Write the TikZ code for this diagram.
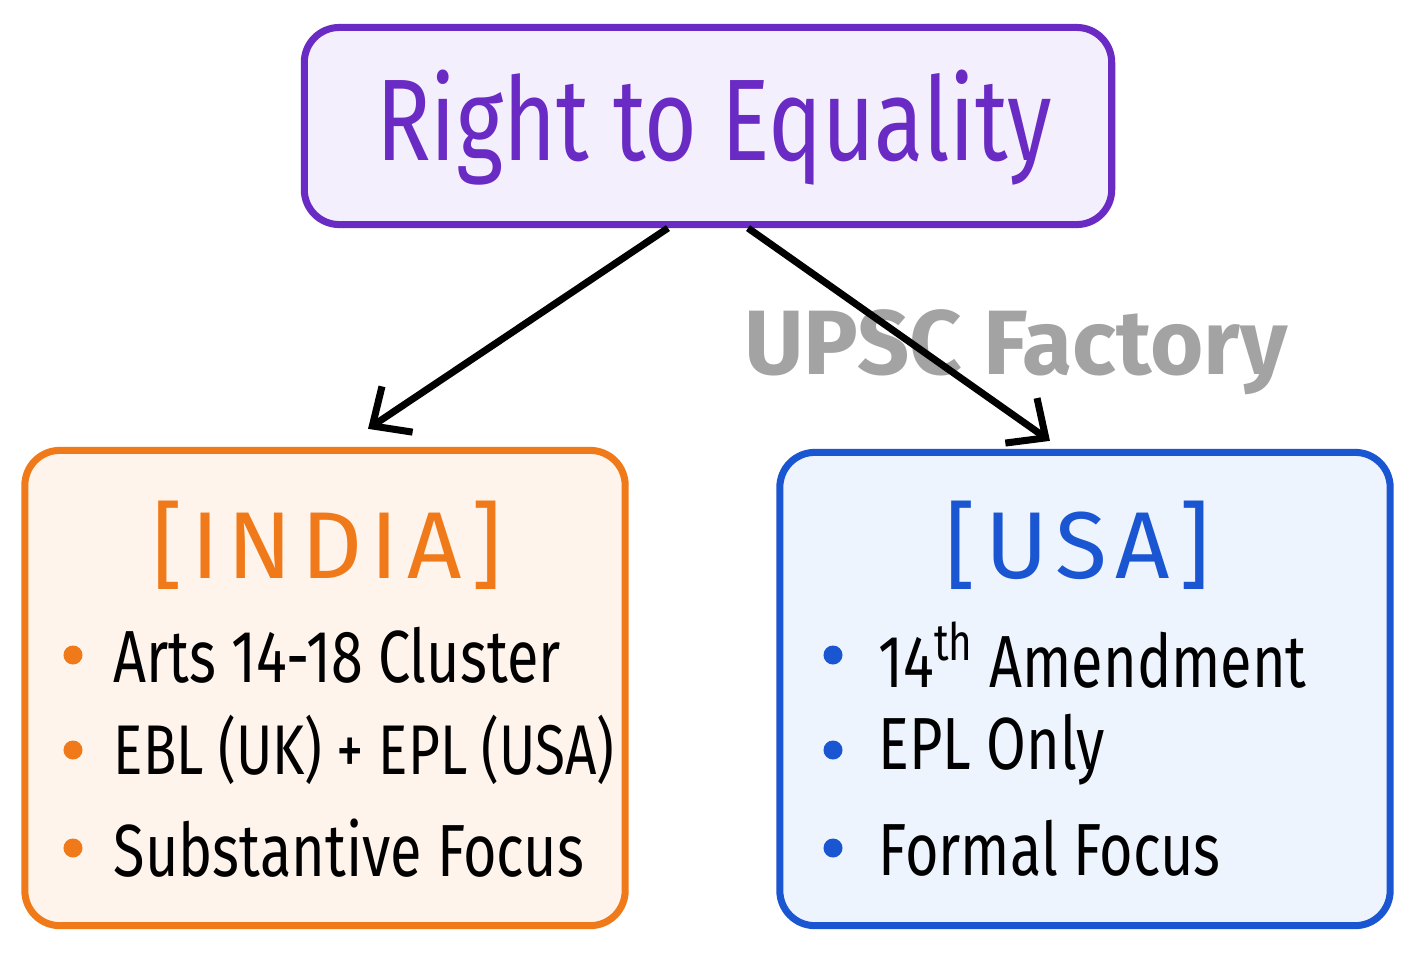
\documentclass[tikz,border=0pt]{standalone}
\usepackage{fontspec}
\setmainfont{Fira Sans}
\newfontfamily\hand[FakeStretch=0.78]{Fira Sans}
\newfontfamily\wide[LetterSpace=9]{Fira Sans}
\usetikzlibrary{arrows.meta,positioning}
\definecolor{titleline}{HTML}{6A2BC4}
\definecolor{titlefill}{HTML}{F4EFFC}
\definecolor{indialine}{HTML}{F07A1A}
\definecolor{indiafill}{HTML}{FFF4EB}
\definecolor{usaline}{HTML}{1A55D2}
\definecolor{usafill}{HTML}{EEF4FD}
\definecolor{mark}{HTML}{A3A3A3}

\begin{document}
\begin{tikzpicture}[x=0.01cm, y=-0.01cm,
    box/.style={draw, line width=2pt, rounded corners=0.35cm, inner sep=0pt},
    dot/.style={circle, inner sep=0pt, minimum size=0.19cm},
    item/.style={anchor=west, inner sep=0pt, font=\hand\fontsize{21}{24}\selectfont},
    head/.style={font=\wide\fontsize{27}{32}\selectfont},
    arrow/.style={-{Straight Barb[length=0.3cm, width=0.55cm]}, line width=2pt}
]
    \useasboundingbox (0,0) rectangle (1417,953);
    % boxes
    \node[box, draw=titleline, fill=titlefill, minimum width=8.07cm, minimum height=1.97cm] (title) at (708,126) {};
    \node[box, draw=indialine, fill=indiafill, minimum width=6cm, minimum height=4.75cm] (india) at (325,688) {};
    \node[box, draw=usaline, fill=usafill, minimum width=6.1cm, minimum height=4.73cm] (usa) at (1085,689) {};
    \node[text=titleline, font=\hand\fontsize{33}{38}\selectfont] (titletext) at (714,128) {Right to Equality};
    % watermark
    \node[text=mark, font=\bfseries\fontsize{26}{30}\selectfont] (mark) at (1016,352) {UPSC Factory};
    % arrows
    \draw[arrow] ([xshift=-0.4cm]title.south) -- ([xshift=0.43cm, yshift=0.18cm]india.north);
    \draw[arrow] ([xshift=0.4cm]title.south) -- ([xshift=-0.35cm, yshift=0.08cm]usa.north);
    % India
    \node[head, text=indialine] (indiahead) at (327,545) {[INDIA]};
    \node[dot, fill=indialine] (i1) at (73,655) {};
    \node[dot, fill=indialine] (i2) at (73,750) {};
    \node[dot, fill=indialine] (i3) at (73,848) {};
    \node[item] (it1) at (113,655) {Arts 14-18 Cluster};
    \node[item, font=\hand\fontsize{20}{24}\selectfont] (it2) at (113,750) {EBL (UK) + EPL (USA)};
    \node[item] (it3) at (113,848) {Substantive Focus};
    % USA
    \node[head, text=usaline] (usahead) at (1078,545) {[USA]};
    \node[dot, fill=usaline] (u1) at (833,655) {};
    \node[dot, fill=usaline] (u2) at (833,750) {};
    \node[dot, fill=usaline] (u3) at (833,848) {};
    \node[item] (ut1) at (878,655) {14\textsuperscript{th} Amendment};
    \node[item] (ut2) at (878,750) {EPL Only};
    \node[item] (ut3) at (878,848) {Formal Focus};
\end{tikzpicture}
\end{document}
